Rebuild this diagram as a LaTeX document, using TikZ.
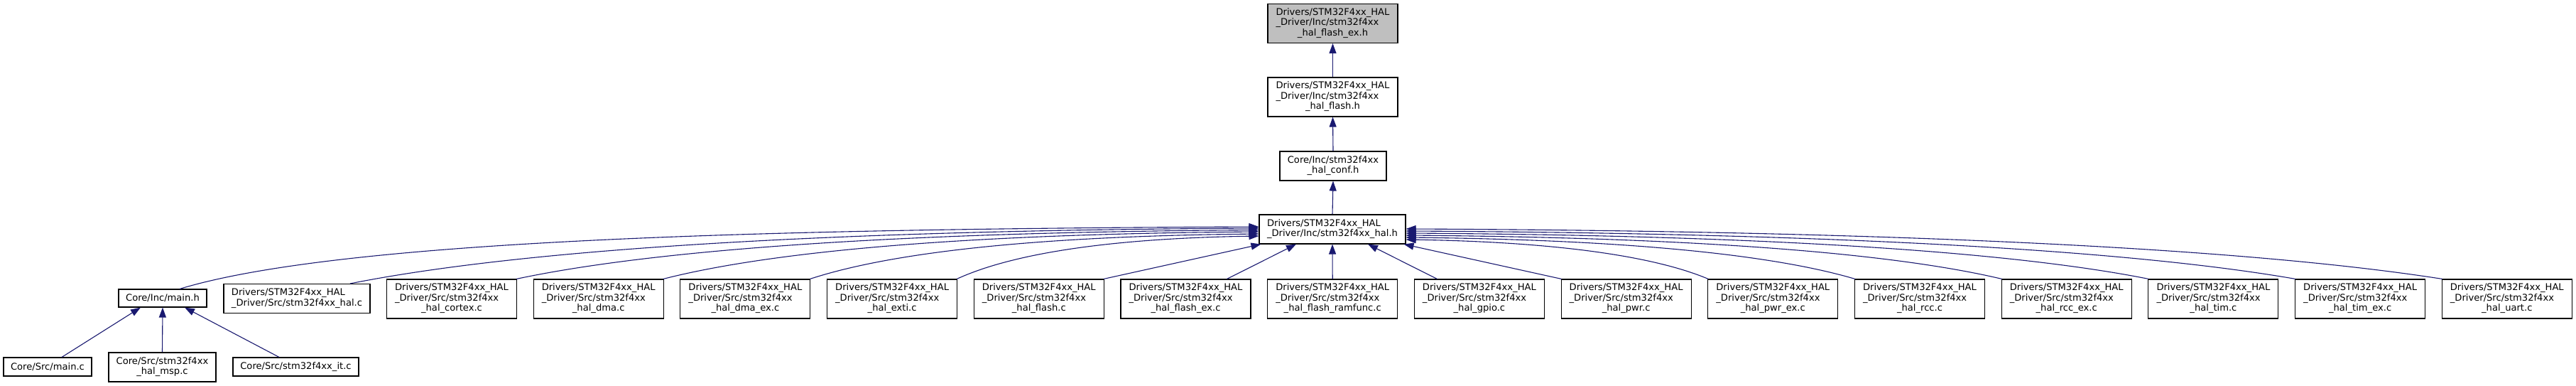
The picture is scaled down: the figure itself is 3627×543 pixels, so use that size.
\documentclass[tikz,border=0pt]{standalone}
\usepackage{fontspec}
\setmainfont{DejaVu Sans}
\usetikzlibrary{arrows.meta}
\definecolor{edgeblue}{HTML}{191970}
\definecolor{nodegray}{HTML}{BFBFBF}
\newcommand\threel[3]{\begin{tabular}{@{}l@{}}#1\\#2\\\multicolumn{1}{@{}c@{}}{#3}\end{tabular}}
\newcommand\twol[2]{\begin{tabular}{@{}l@{}}#1\\#2\end{tabular}}
\newcommand\twoc[2]{\begin{tabular}{@{}c@{}}#1\\#2\end{tabular}}
\tikzset{
  box/.style={draw=black, line width=1.1pt, fill=white, inner sep=0pt,
    font=\fontsize{13.1}{14.5}\selectfont},
  rowthree/.style={box, minimum width=183pt, minimum height=55pt},
  dep/.style={draw=edgeblue, line width=1.1pt, -{Triangle[length=14pt,width=10pt]}}
}
\begin{document}
\begin{tikzpicture}[x=1pt,y=-1pt]
\useasboundingbox (0,0) rectangle (3627,543);
% top chain
\node[rowthree, fill=nodegray] (fex) at (1876.5,33) {\threel{Drivers/STM32F4xx\_HAL}{\_Driver/Inc/stm32f4xx}{\_hal\_flash\_ex.h}};
\node[rowthree] (flashh) at (1876.5,136.5) {\threel{Drivers/STM32F4xx\_HAL}{\_Driver/Inc/stm32f4xx}{\_hal\_flash.h}};
\node[box, minimum width=150pt, minimum height=41pt] (conf) at (1877,233.5) {\twoc{Core/Inc/stm32f4xx}{\_hal\_conf.h}};
\node[box, minimum width=206pt, minimum height=41pt] (halh) at (1876,322.5) {\twol{Drivers/STM32F4xx\_HAL}{\_Driver/Inc/stm32f4xx\_hal.h}};
% row 2
\node[box, minimum width=124pt, minimum height=25pt] (mainh) at (229,419.5) {Core/Inc/main.h};
\node[box, minimum width=206pt, minimum height=41pt] (halc) at (418,420) {\twol{Drivers/STM32F4xx\_HAL}{\_Driver/Src/stm32f4xx\_hal.c}};
\node[rowthree] (cortex) at (636,420.5) {\threel{Drivers/STM32F4xx\_HAL}{\_Driver/Src/stm32f4xx}{\_hal\_cortex.c}};
\node[rowthree] (dma) at (842.7,420.5) {\threel{Drivers/STM32F4xx\_HAL}{\_Driver/Src/stm32f4xx}{\_hal\_dma.c}};
\node[rowthree] (dmaex) at (1049.4,420.5) {\threel{Drivers/STM32F4xx\_HAL}{\_Driver/Src/stm32f4xx}{\_hal\_dma\_ex.c}};
\node[rowthree] (exti) at (1256.1,420.5) {\threel{Drivers/STM32F4xx\_HAL}{\_Driver/Src/stm32f4xx}{\_hal\_exti.c}};
\node[rowthree] (flashc) at (1462.8,420.5) {\threel{Drivers/STM32F4xx\_HAL}{\_Driver/Src/stm32f4xx}{\_hal\_flash.c}};
\node[rowthree] (flashexc) at (1669.5,420.5) {\threel{Drivers/STM32F4xx\_HAL}{\_Driver/Src/stm32f4xx}{\_hal\_flash\_ex.c}};
\node[rowthree] (ramfunc) at (1876.2,420.5) {\threel{Drivers/STM32F4xx\_HAL}{\_Driver/Src/stm32f4xx}{\_hal\_flash\_ramfunc.c}};
\node[rowthree] (gpio) at (2082.9,420.5) {\threel{Drivers/STM32F4xx\_HAL}{\_Driver/Src/stm32f4xx}{\_hal\_gpio.c}};
\node[rowthree] (pwr) at (2289.6,420.5) {\threel{Drivers/STM32F4xx\_HAL}{\_Driver/Src/stm32f4xx}{\_hal\_pwr.c}};
\node[rowthree] (pwrex) at (2496.3,420.5) {\threel{Drivers/STM32F4xx\_HAL}{\_Driver/Src/stm32f4xx}{\_hal\_pwr\_ex.c}};
\node[rowthree] (rcc) at (2703,420.5) {\threel{Drivers/STM32F4xx\_HAL}{\_Driver/Src/stm32f4xx}{\_hal\_rcc.c}};
\node[rowthree] (rccex) at (2909.7,420.5) {\threel{Drivers/STM32F4xx\_HAL}{\_Driver/Src/stm32f4xx}{\_hal\_rcc\_ex.c}};
\node[rowthree] (tim) at (3116.4,420.5) {\threel{Drivers/STM32F4xx\_HAL}{\_Driver/Src/stm32f4xx}{\_hal\_tim.c}};
\node[rowthree] (timex) at (3323.1,420.5) {\threel{Drivers/STM32F4xx\_HAL}{\_Driver/Src/stm32f4xx}{\_hal\_tim\_ex.c}};
\node[rowthree] (uart) at (3529.8,420.5) {\threel{Drivers/STM32F4xx\_HAL}{\_Driver/Src/stm32f4xx}{\_hal\_uart.c}};
% bottom row
\node[box, minimum width=124pt, minimum height=26pt] (mainc) at (67,516) {Core/Src/main.c};
\node[box, minimum width=151pt, minimum height=41pt] (msp) at (228.5,516.5) {\twoc{Core/Src/stm32f4xx}{\_hal\_msp.c}};
\node[box, minimum width=177pt, minimum height=26pt] (itc) at (416.5,516) {Core/Src/stm32f4xx\_it.c};
% vertical chain
\draw[dep] (flashh.north) -- (fex.south);
\draw[dep] (conf.north) -- (flashh.south);
\draw[dep] (halh.north) -- (conf.south);
\draw[dep] (ramfunc.north) -- (halh.south);
% main.h group
\draw[dep] ([xshift=20pt]mainc.north) -- ([xshift=-31pt]mainh.south);
\draw[dep] (msp.north) -- (mainh.south);
\draw[dep] ([xshift=-23.5pt]itc.north) -- ([xshift=31pt]mainh.south);
% left curved
\draw[dep] ([xshift=24pt]mainh.north) .. controls (481,337) and (1089,322) .. ([yshift=3.5pt]halh.west);
\draw[dep] ([xshift=75pt]halc.north) .. controls (749,348) and (1197,324) .. ([yshift=1.5pt]halh.west);
\draw[dep] ([xshift=-1pt]cortex.north east) .. controls (936,348) and (1302,326.5) .. ([yshift=-1pt]halh.west);
\draw[dep] ([xshift=-1pt]dma.north east) .. controls (1102,349.5) and (1395,329) .. ([yshift=-3.5pt]halh.west);
\draw[dep] ([xshift=-1pt]dmaex.north east) .. controls (1267,351) and (1488,332) .. ([yshift=-6.5pt]halh.west);
\draw[dep] ([xshift=-1pt]exti.north east) .. controls (1433,353) and (1582,335) .. ([yshift=-9.5pt]halh.west);
% straight
\draw[dep] ([xshift=-1pt]flashc.north east) -- ([xshift=3pt]halh.south west);
\draw[dep] ([xshift=58pt]flashexc.north) -- ([xshift=-51pt]halh.south);
\draw[dep] ([xshift=-59.5pt]gpio.north) -- ([xshift=50pt]halh.south);
\draw[dep] ([xshift=1pt]pwr.north west) -- ([xshift=-3pt]halh.south east);
% right curved
\draw[dep] ([xshift=1pt]pwrex.north west) .. controls (2321,357) and (2171,340) .. ([yshift=-14.5pt]halh.east);
\draw[dep] ([xshift=1pt]rcc.north west) .. controls (2485,355) and (2264,337) .. ([yshift=-11.5pt]halh.east);
\draw[dep] ([xshift=1pt]rccex.north west) .. controls (2652,353) and (2357,334) .. ([yshift=-8.5pt]halh.east);
\draw[dep] ([xshift=1pt]tim.north west) .. controls (2817,351) and (2450,331) .. ([yshift=-5.5pt]halh.east);
\draw[dep] ([xshift=1pt]timex.north west) .. controls (2982,349) and (2543,328) .. ([yshift=-2.5pt]halh.east);
\draw[dep] ([xshift=1pt]uart.north west) .. controls (3148,347) and (2636,325) .. ([yshift=0.5pt]halh.east);
\end{tikzpicture}
\end{document}
